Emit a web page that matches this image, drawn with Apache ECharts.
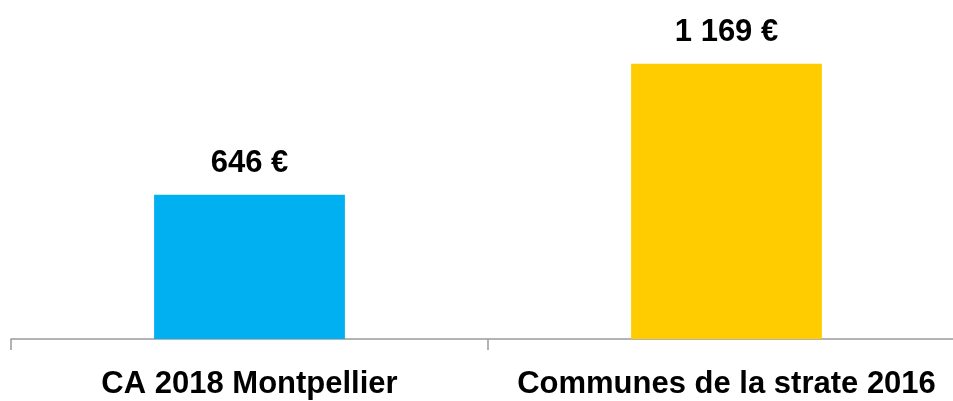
<!DOCTYPE html>
<html>
<head>
<meta charset="utf-8">
<script src="https://cdn.jsdelivr.net/npm/echarts@6/dist/echarts.min.js"></script>
<style>
html,body{margin:0;padding:0;background:#fff;}
#chart{width:953px;height:401px;}
</style>
</head>
<body>
<div id="chart"></div>
<script>
const categories = ['CA 2018 Montpellier', 'Communes de la strate 2016'];
const values = [646, 1169];
const barColors = ['#00B0F0', '#FFCC00'];
const FONT = '"Liberation Sans", Arial, sans-serif';

function fmt(v) {
  return String(v).replace(/\B(?=(\d{3})+(?!\d))/g, ' ') + ' €';
}

const chart = echarts.init(document.getElementById('chart'), null, {renderer: 'canvas'});
chart.setOption({
  animation: false,
  backgroundColor: '#ffffff',
  grid: {left: 11, right: -12, top: 39, bottom: 62, containLabel: false, outerBoundsMode: 'none'},
  xAxis: {
    type: 'category',
    data: categories,
    boundaryGap: true,
    axisLine: {show: true, lineStyle: {color: '#9a9a9a', width: 1.5}},
    axisTick: {show: true, length: 11, lineStyle: {color: '#9a9a9a', width: 1.5}},
    axisLabel: {
      margin: 30,
      color: '#000',
      fontFamily: FONT,
      fontWeight: 'bold',
      fontSize: 31,
      interval: 0,
      hideOverlap: false
    }
  },
  yAxis: {
    type: 'value',
    min: 70,
    max: 1268,
    show: false,
    splitLine: {show: false}
  },
  series: [{
    type: 'bar',
    barWidth: '40%',
    data: values.map((v, i) => ({value: v, itemStyle: {color: barColors[i]}})),
    label: {
      show: true,
      position: 'top',
      distance: 16,
      color: '#000',
      fontFamily: FONT,
      fontWeight: 'bold',
      fontSize: 31,
      formatter: p => fmt(p.value)
    }
  }]
});
</script>
</body>
</html>
